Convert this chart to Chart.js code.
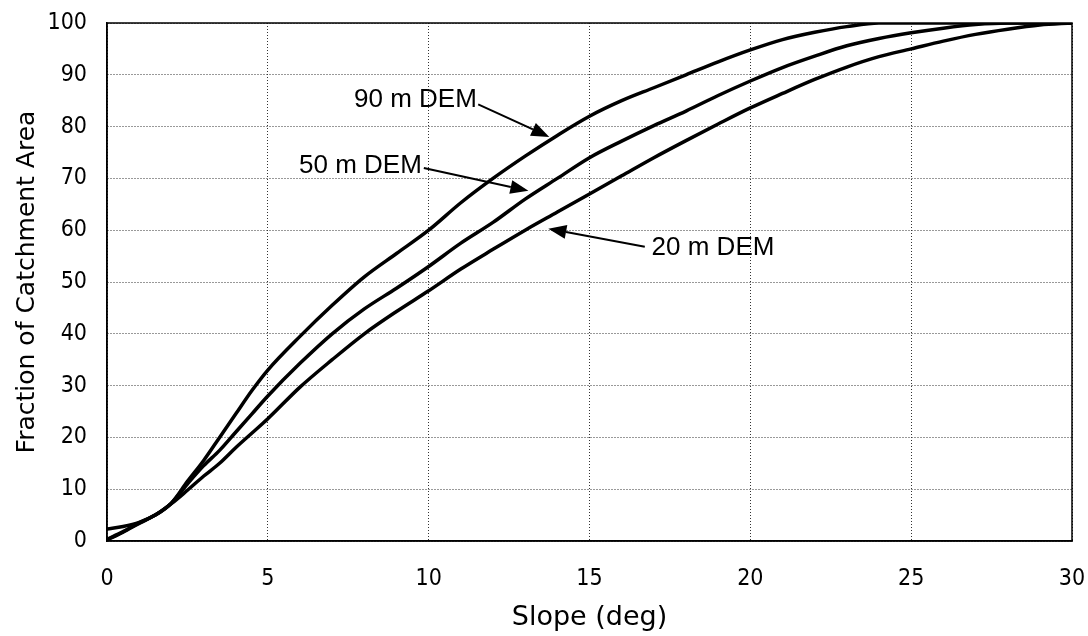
<!DOCTYPE html>
<html>
<head>
<meta charset="utf-8">
<script src="https://cdn.jsdelivr.net/npm/chart.js@4"></script>
<style>
  html, body { margin: 0; padding: 0; background: #fff; }
  #wrap { width: 1088px; height: 636px; position: relative; }
</style>
</head>
<body>
<div id="wrap"><canvas id="chart"></canvas></div>
<script>
// slope (deg) sample points
const slopes = [0, 0.5, 1, 1.5, 2, 2.5, 3, 3.5, 4, 4.5, 5, 6, 7, 8, 9, 10, 11, 12, 13, 14, 15,
                16, 17, 18, 19, 20, 21, 22, 23, 24, 25, 26, 27, 28, 29, 30];

// cumulative fraction of catchment area (%)
const dem90 = [2.3, 2.8, 3.6, 5.0, 7.3, 11.5, 15.5, 20.0, 24.5, 29.0, 33.0, 39.5, 45.5, 51.0, 55.5, 60.0, 65.3, 70.0, 74.3, 78.3, 82.0,
               85.0, 87.5, 90.0, 92.5, 94.8, 96.8, 98.2, 99.3, 100, 100, 100, 100, 100, 100, 100];
const dem50 = [0.3, 1.8, 3.5, 5.0, 7.3, 11.0, 14.5, 17.5, 21.0, 24.5, 28.0, 34.3, 40.0, 44.8, 48.8, 53.0, 57.5, 61.5, 66.0, 70.0, 74.0,
               77.2, 80.2, 83.0, 86.0, 88.8, 91.4, 93.6, 95.6, 97.0, 98.1, 99.0, 99.7, 100, 100, 100];
const dem20 = [0.2, 1.7, 3.4, 5.0, 7.2, 9.8, 12.5, 15.0, 18.0, 20.8, 23.6, 29.7, 35.0, 40.0, 44.3, 48.3, 52.5, 56.3, 60.0, 63.5, 67.0,
               70.5, 74.0, 77.3, 80.5, 83.6, 86.4, 89.1, 91.5, 93.5, 95.0, 96.5, 97.8, 98.8, 99.6, 100];

const seriesNames = ['90 m DEM', '50 m DEM', '20 m DEM'];

// callouts: label position and arrow (from -> to) in data units
const callouts = [
    { text: '90 m DEM', x: 7.68, y: 85.1, from: [11.54, 84.3], to: [13.75, 78.0] },
    { text: '50 m DEM', x: 5.97, y: 72.5, from: [9.85, 72.0], to: [13.1, 67.6] },
    { text: '20 m DEM', x: 16.93, y: 56.6, from: [16.72, 56.8], to: [13.72, 60.3] }
];

function toPoints(ys) {
    return slopes.map((s, i) => ({ x: s, y: ys[i] }));
}

const calloutPlugin = {
    id: 'callouts',
    afterDatasetsDraw(chart) {
        const { ctx, chartArea, scales: { x, y } } = chart;
        ctx.save();

        // plot frame
        ctx.strokeStyle = '#000';
        ctx.lineWidth = 1.5;
        ctx.strokeRect(chartArea.left, chartArea.top, chartArea.right - chartArea.left, chartArea.bottom - chartArea.top);

        ctx.fillStyle = '#000';
        ctx.font = '26px "Liberation Sans", Arial, sans-serif';
        ctx.textAlign = 'left';
        ctx.textBaseline = 'middle';

        callouts.forEach(c => {
            ctx.fillText(c.text, x.getPixelForValue(c.x), y.getPixelForValue(c.y));

            const x0 = x.getPixelForValue(c.from[0]);
            const y0 = y.getPixelForValue(c.from[1]);
            const x1 = x.getPixelForValue(c.to[0]);
            const y1 = y.getPixelForValue(c.to[1]);
            const ang = Math.atan2(y1 - y0, x1 - x0);
            const headLen = 18;
            const headHalf = 7;
            const bx = x1 - headLen * Math.cos(ang);
            const by = y1 - headLen * Math.sin(ang);

            ctx.lineWidth = 2;
            ctx.beginPath();
            ctx.moveTo(x0, y0);
            ctx.lineTo(bx, by);
            ctx.stroke();

            ctx.beginPath();
            ctx.moveTo(x1, y1);
            ctx.lineTo(bx + headHalf * Math.sin(ang), by - headHalf * Math.cos(ang));
            ctx.lineTo(bx - headHalf * Math.sin(ang), by + headHalf * Math.cos(ang));
            ctx.closePath();
            ctx.fill();
        });

        ctx.restore();
    }
};

// drop the extra room Chart.js keeps for overhanging tick labels
function noLabelPadding(scale) {
    scale.paddingLeft = 0;
    scale.paddingRight = 0;
    scale.paddingTop = 0;
    scale.paddingBottom = 0;
}

const tickFont = { family: '"DejaVu Sans Condensed", "DejaVu Sans", sans-serif', size: 23 };

new Chart(document.getElementById('chart'), {
    type: 'line',
    data: {
        datasets: [dem90, dem50, dem20].map((ys, i) => ({
            label: seriesNames[i],
            data: toPoints(ys),
            borderColor: '#000',
            borderWidth: 3.5,
            pointRadius: 0,
            fill: false,
            cubicInterpolationMode: 'monotone'
        }))
    },
    options: {
        responsive: true,
        maintainAspectRatio: false,
        animation: false,
        layout: { padding: { top: 23, right: 16, left: 0, bottom: 0 } },
        plugins: {
            legend: { display: false },
            tooltip: { enabled: false }
        },
        scales: {
            x: {
                type: 'linear',
                min: 0,
                max: 30,
                ticks: { stepSize: 5, color: '#000', font: tickFont, padding: 24, maxRotation: 0 },
                grid: { color: '#333', lineWidth: 1, drawTicks: false },
                border: { display: true, color: '#000', width: 1.5, dash: [1, 2] },
                title: {
                    display: true,
                    text: 'Slope (deg)',
                    color: '#000',
                    font: { family: '"DejaVu Sans", sans-serif', size: 27 },
                    padding: { top: 0, bottom: 2 }
                },
                afterFit: scale => { scale.height = 95; noLabelPadding(scale); }
            },
            y: {
                min: 0,
                max: 100,
                ticks: { stepSize: 10, color: '#000', font: tickFont, padding: 20 },
                grid: { color: '#333', lineWidth: 1, drawTicks: false },
                border: { display: true, color: '#000', width: 1.5, dash: [1, 2] },
                title: {
                    display: true,
                    text: 'Fraction of Catchment Area',
                    color: '#000',
                    font: { family: '"DejaVu Sans", sans-serif', size: 25 },
                    padding: { top: 12, bottom: 0 }
                },
                afterFit: scale => { scale.width = 107; noLabelPadding(scale); }
            }
        }
    },
    plugins: [calloutPlugin]
});
</script>
</body>
</html>
